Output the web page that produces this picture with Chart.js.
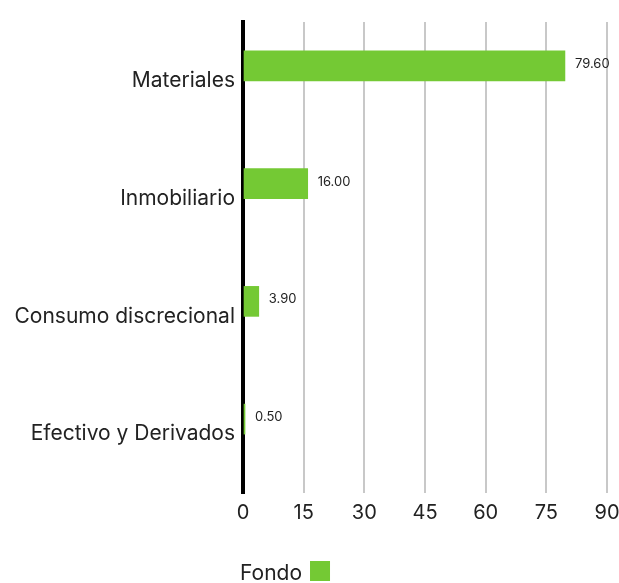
<!DOCTYPE html>
<html lang="es">
<head>
  <meta charset="UTF-8">
  <title>Fondo por sector</title>
  <style>
    body { margin: 0; background: #fff; }
    .wrap { width: 619px; height: 583px; position: relative; }
  </style>
</head>
<body>
  <div class="wrap">
    <canvas id="sectorChart"></canvas>
  </div>

  <script src="https://cdn.jsdelivr.net/npm/chart.js"></script>
  <script>
    // datos
    const categories = ['Materiales', 'Inmobiliario', 'Consumo discrecional', 'Efectivo y Derivados'];
    const fondoValues = [79.60, 16.00, 3.90, 0.50];
    const emptySeries = [null, null, null, null];
    const xTicks = [0, 15, 30, 45, 60, 75, 90];

    const green = '#74c934';
    const font = "Inter, sans-serif";

    // etiquetas de valor al final de cada barra
    const valueLabels = {
      id: 'valueLabels',
      afterDatasetsDraw(chart) {
        const c = chart.ctx;
        const meta = chart.getDatasetMeta(0);
        c.save();
        c.font = '13px ' + font;
        c.fillStyle = '#222';
        c.textBaseline = 'middle';
        meta.data.forEach((bar, i) => {
          c.fillText(fondoValues[i].toFixed(2), bar.x + 10, bar.y - 2);
        });
        c.restore();
      }
    };

    // leyenda: texto primero, luego el cuadro
    const bottomLegend = {
      id: 'bottomLegend',
      afterDraw(chart) {
        const c = chart.ctx;
        const ds = chart.data.datasets[0];
        c.save();
        c.font = '21px ' + font;
        c.fillStyle = '#222';
        c.textBaseline = 'middle';
        c.fillText(ds.label, 240, 574);
        const w = c.measureText(ds.label).width;
        c.fillStyle = ds.backgroundColor;
        c.fillRect(240 + w + 8, 561, 20, 20);
        c.restore();
      }
    };

    new Chart(document.getElementById('sectorChart'), {
      type: 'bar',
      data: {
        labels: categories,
        datasets: [
          { label: 'Fondo', data: fondoValues, backgroundColor: green, barThickness: 30 },
          { label: '', data: emptySeries, backgroundColor: 'transparent', barThickness: 30 }
        ]
      },
      options: {
        indexAxis: 'y',
        responsive: true,
        maintainAspectRatio: false,
        animation: false,
        layout: { padding: { top: 22, right: 12, bottom: 50, left: 0 } },
        plugins: {
          legend: { display: false },
          tooltip: { enabled: false }
        },
        scales: {
          x: {
            min: 0,
            max: 90,
            afterBuildTicks: (scale) => { scale.ticks = xTicks.map(v => ({ value: v })); },
            afterFit: (scale) => { scale.paddingRight = 12; },
            grid: { color: '#c8c8c8', lineWidth: 2, drawTicks: false },
            border: { display: false },
            ticks: { color: '#222', padding: 8, font: { family: font, size: 20 } }
          },
          y: {
            afterFit: (scale) => { scale.width = 243; },
            grid: { display: false, drawTicks: false },
            border: { display: true, color: '#000', width: 4 },
            ticks: { color: '#222', padding: 8, font: { family: font, size: 21 } }
          }
        }
      },
      plugins: [valueLabels, bottomLegend]
    });
  </script>
</body>
</html>
